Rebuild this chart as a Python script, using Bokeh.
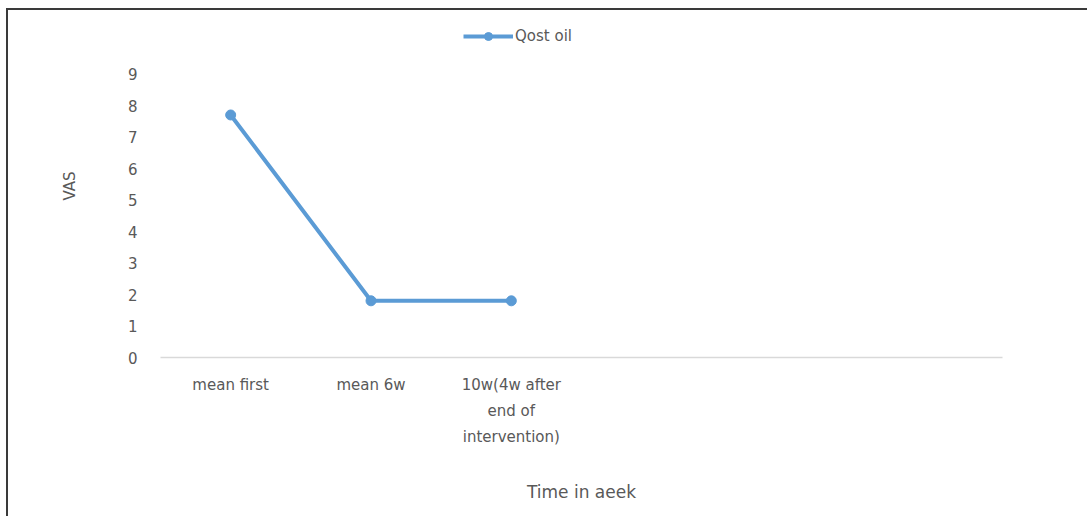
from bokeh.plotting import figure
from bokeh.models import ColumnDataSource, Legend, LegendItem, FixedTicker
from bokeh.embed import file_html
from bokeh.resources import INLINE

categories = ["mean first", "mean 6w", "10w(4w after\nend of\nintervention)", " ", "  ", "   "]
x_labels = ["mean first", "mean 6w", "10w(4w after\nend of\nintervention)"]
vas_values = [7.7, 1.8, 1.8]
series_name = "Qost oil"
y_ticks = [0, 1, 2, 3, 4, 5, 6, 7, 8, 9]

FONT = "DejaVu Sans"
TXT = "#595959"
BLUE = "#5B9BD5"

p = figure(x_range=categories, y_range=(0, 10.89), width=1081, height=508,
           output_backend="svg", toolbar_location=None,
           min_border_left=152, min_border_right=87, min_border_top=4, min_border_bottom=161)
p.margin = (8, 0, 0, 6)
p.styles = {"border-top": "2px solid #3a3a3a", "border-left": "2px solid #3a3a3a"}
p.outline_line_color = None
p.grid.visible = False

src = ColumnDataSource(dict(x=x_labels, y=vas_values))
ln = p.line("x", "y", source=src, line_color=BLUE, line_width=4)
sc = p.scatter("x", "y", source=src, size=10, fill_color=BLUE, line_color=BLUE)

p.yaxis.ticker = FixedTicker(ticks=y_ticks)
p.yaxis.axis_line_color = None
p.yaxis.major_tick_line_color = None
p.yaxis.minor_tick_line_color = None
p.yaxis.major_label_text_font = FONT
p.yaxis.major_label_text_font_size = "15px"
p.yaxis.major_label_text_color = TXT
p.yaxis.major_label_standoff = 17
p.yaxis.axis_label = "VAS"
p.yaxis.axis_label_text_font = FONT
p.yaxis.axis_label_text_font_size = "15px"
p.yaxis.axis_label_text_font_style = "normal"
p.yaxis.axis_label_text_color = TXT
p.yaxis.axis_label_standoff = 46

p.xaxis.axis_line_color = "#d9d9d9"
p.xaxis.axis_line_width = 1.5
p.xaxis.major_tick_line_color = None
p.xaxis.minor_tick_line_color = None
p.xaxis.major_label_text_font = FONT
p.xaxis.major_label_text_font_size = "15px"
p.xaxis.major_label_text_color = TXT
p.xaxis.major_label_text_line_height = 1.45
p.xaxis.major_label_standoff = 12
p.xaxis.axis_label = "Time in aeek"
p.xaxis.axis_label_text_font = FONT
p.xaxis.axis_label_text_font_size = "17px"
p.xaxis.axis_label_text_font_style = "normal"
p.xaxis.axis_label_text_color = TXT
p.xaxis.axis_label_standoff = 33

legend = Legend(items=[LegendItem(label=series_name, renderers=[ln, sc])],
                location=(303, 311), orientation="horizontal",
                border_line_color=None, background_fill_alpha=0,
                label_text_font=FONT, label_text_font_size="15px", label_text_color=TXT,
                glyph_width=50, padding=0, margin=0, label_standoff=2, spacing=0)
p.add_layout(legend, "center")

open("out.html", "w").write(file_html(p, INLINE))
